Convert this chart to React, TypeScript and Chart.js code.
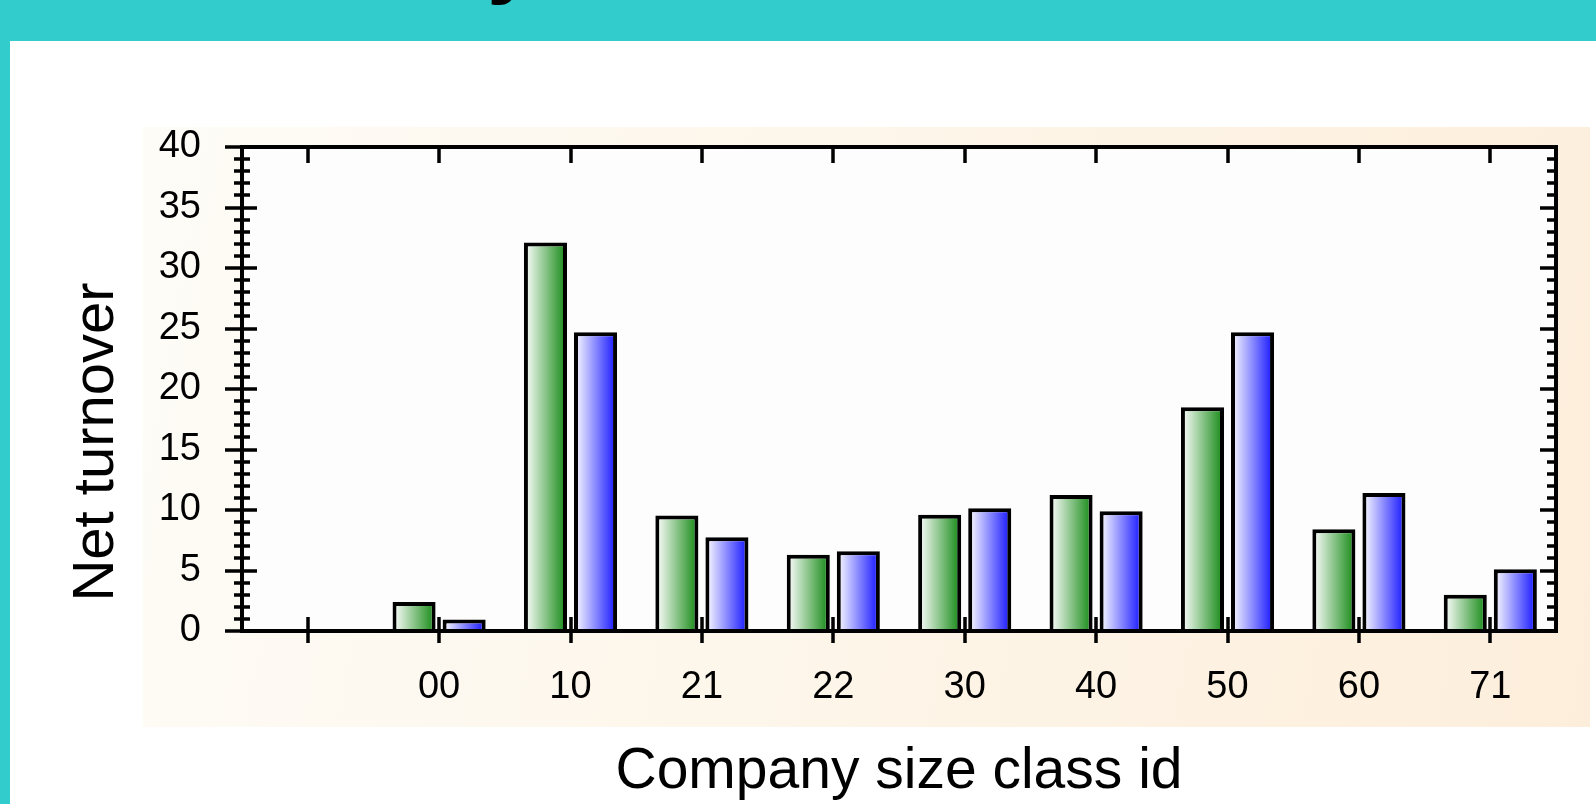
import React, { useEffect, useRef } from "react";
import { Chart, registerables } from "chart.js";

Chart.register(...registerables);

// ---- data ----
const categories = ["", "00", "10", "21", "22", "30", "40", "50", "60", "71"];
const seriesGreen: (number | null)[] = [null, 2.4, 32.1, 9.55, 6.3, 9.6, 11.25, 18.5, 8.4, 3.0];
const seriesBlue: (number | null)[] = [null, 0.95, 24.7, 7.75, 6.6, 10.15, 9.9, 24.7, 11.4, 5.1];
const yMin = 0;
const yMax = 40;
const yMajorStep = 5;
const yMinorStep = 1;
const xTitle = "Company size class id";
const yTitle = "Net turnover";
const topFragment = "y";

const FONT = "'Liberation Sans', Arial, Helvetica, sans-serif";
const CAT_PCT = 0.762;
const BAR_PCT = 0.86;

function barGradient(light: string, dark: string) {
  return (c: any) => {
    const chart = c.chart;
    const xs = chart.scales && chart.scales.x;
    if (!xs || c.type !== "data" || !isFinite(xs.width)) return dark;
    const n = categories.length;
    const catW = xs.width / n;
    const slot = (catW * CAT_PCT) / 2;
    const w = slot * BAR_PCT;
    const center = xs.getPixelForValue(c.dataIndex) + (c.datasetIndex - 0.5) * slot;
    if (!isFinite(center)) return dark;
    const g = chart.ctx.createLinearGradient(center - w / 2, 0, center + w / 2, 0);
    g.addColorStop(0, light);
    g.addColorStop(0.12, light);
    g.addColorStop(1, dark);
    return g;
  };
}

const frameTicks = {
  id: "frameTicks",
  beforeDraw(chart: any) {
    const { ctx, chartArea: a } = chart;
    ctx.save();
    ctx.fillStyle = "#fdfdfd";
    ctx.fillRect(a.left, a.top, a.right - a.left, a.bottom - a.top);
    ctx.restore();
  },
  afterDraw(chart: any) {
    const { ctx, chartArea: a, scales } = chart;
    const ys = scales.y;
    const xs = scales.x;
    ctx.save();
    ctx.strokeStyle = "#000";
    ctx.lineCap = "butt";
    ctx.lineWidth = 3.5;
    ctx.beginPath();
    for (let v = yMin; v <= yMax + 1e-9; v += yMinorStep) {
      const py = Math.round(ys.getPixelForValue(v));
      const major = Math.abs(v / yMajorStep - Math.round(v / yMajorStep)) < 1e-9;
      if (major) {
        ctx.moveTo(a.left - 17, py);
        ctx.lineTo(a.left + 15, py);
        ctx.moveTo(a.right - 16, py);
        ctx.lineTo(a.right, py);
      } else {
        ctx.moveTo(a.left - 8, py);
        ctx.lineTo(a.left + 8, py);
        ctx.moveTo(a.right - 9, py);
        ctx.lineTo(a.right, py);
      }
    }
    for (let i = 0; i < categories.length; i++) {
      const px = Math.round(xs.getPixelForTick(i));
      ctx.moveTo(px, a.top);
      ctx.lineTo(px, a.top + 16);
      ctx.moveTo(px, a.bottom - 14);
      ctx.lineTo(px, a.bottom + 12);
    }
    ctx.stroke();
    ctx.lineWidth = 4;
    ctx.strokeRect(a.left, a.top, a.right - a.left, a.bottom - a.top);
    ctx.fillStyle = "#000";
    ctx.font = `58px ${FONT}`;
    ctx.textAlign = "center";
    ctx.textBaseline = "middle";
    ctx.translate(97, 442);
    ctx.rotate(-Math.PI / 2);
    ctx.fillText(yTitle, 0, 0);
    ctx.restore();
  },
};

export default function App() {
  const ref = useRef<HTMLCanvasElement | null>(null);

  useEffect(() => {
    document.body.style.margin = "0";
    const canvas = ref.current;
    if (!canvas) return;
    const chart = new Chart(canvas, {
      type: "bar",
      data: {
        labels: categories,
        datasets: [
          {
            label: "Series 1",
            data: seriesGreen,
            backgroundColor: barGradient("#e6f2e6", "#118811"),
            borderColor: "#000",
            borderWidth: 4,
            borderSkipped: "start",
            categoryPercentage: CAT_PCT,
            barPercentage: BAR_PCT,
          },
          {
            label: "Series 2",
            data: seriesBlue,
            backgroundColor: barGradient("#e4e4ff", "#1212ff"),
            borderColor: "#000",
            borderWidth: 4,
            borderSkipped: "start",
            categoryPercentage: CAT_PCT,
            barPercentage: BAR_PCT,
          },
        ],
      },
      options: {
        responsive: false,
        maintainAspectRatio: false,
        animation: false,
        layout: { padding: { left: 0, top: 147, right: 40, bottom: 0 } },
        plugins: {
          legend: { display: false },
          tooltip: { enabled: false },
          title: { display: false },
        },
        scales: {
          x: {
            type: "category",
            offset: true,
            grid: { display: false, drawTicks: false },
            border: { display: false },
            ticks: {
              color: "#000",
              font: { family: FONT, size: 38 },
              padding: 34,
              maxRotation: 0,
              autoSkip: false,
            },
            title: {
              display: true,
              text: xTitle,
              color: "#000",
              font: { family: FONT, size: 57 },
              padding: { top: 0, bottom: -2 },
            },
            afterFit: (s: any) => {
              s.height = 173;
            },
          },
          y: {
            min: yMin,
            max: yMax,
            grid: { display: false, drawTicks: false },
            border: { display: false },
            ticks: {
              stepSize: yMajorStep,
              color: "#000",
              font: { family: FONT, size: 38 },
              padding: 41,
            },
            afterFit: (s: any) => {
              s.width = 242;
            },
          },
        },
      },
      plugins: [frameTicks],
    } as any);
    return () => chart.destroy();
  }, []);

  return (
    <div
      style={{
        position: "fixed",
        left: 0,
        top: 0,
        width: 1596,
        height: 804,
        background: "#ffffff",
        overflow: "hidden",
      }}
    >
      <div style={{ position: "absolute", left: 0, top: 0, width: 1596, height: 41, background: "#33cccc" }} />
      <div style={{ position: "absolute", left: 0, top: 0, width: 10, height: 804, background: "#33cccc" }} />
      <div
        style={{
          position: "absolute",
          left: 487,
          top: -90,
          fontFamily: FONT,
          fontWeight: "bold",
          fontSize: 90,
          lineHeight: "90px",
          color: "#000",
        }}
      >
        {topFragment}
      </div>
      <div
        style={{
          position: "absolute",
          left: 143,
          top: 127,
          width: 1447,
          height: 600,
          background: "linear-gradient(100deg, #fefcf7 0%, #fdf6ea 45%, #fdeedb 100%)",
        }}
      />
      <canvas
        ref={ref}
        width={1596}
        height={804}
        style={{ position: "absolute", left: 0, top: 0, width: 1596, height: 804 }}
      />
    </div>
  );
}
